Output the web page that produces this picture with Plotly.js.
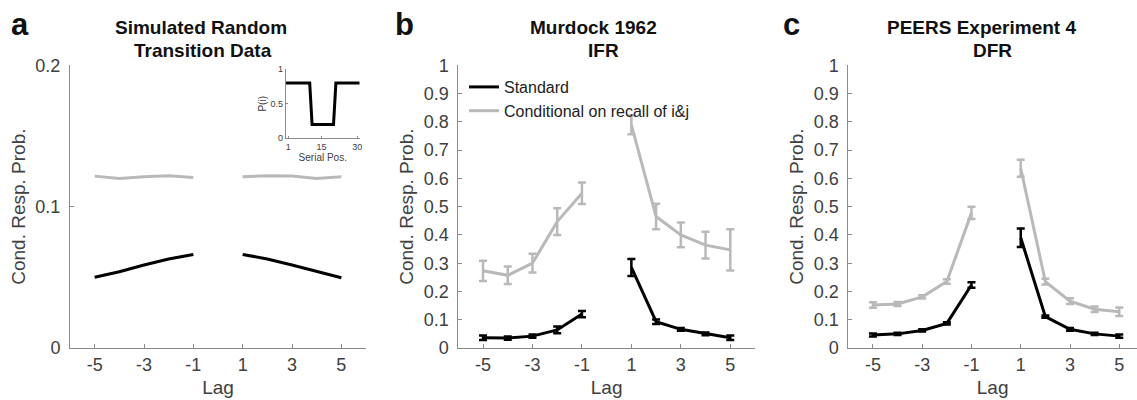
<!DOCTYPE html>
<html>
<head>
<meta charset="utf-8">
<script src="https://cdn.plot.ly/plotly-3.0.1.min.js"></script>
<style>html,body{margin:0;padding:0;background:#fff;}#chart{width:1137px;height:400px;}</style>
</head>
<body>
<div id="chart"></div>
<script>
// ---- data ----
const lags = [-5, -4, -3, -2, -1, 1, 2, 3, 4, 5];
const lagTicks = [-5, -3, -1, 1, 3, 5];

// Panel a: simulated random transition data
const simStandard    = [0.050, 0.054, 0.0587, 0.063, 0.0662, 0.0662, 0.063, 0.0587, 0.054, 0.0497];
const simConditional = [0.1216, 0.1199, 0.1211, 0.1218, 0.1206, 0.1211, 0.1219, 0.1216, 0.1199, 0.1211];

// Inset: probability of recall by serial position
const insetSerialPos = [0,1,2,3,4,5,6,7,8,9,10,11,12,13,14,15,16,17,18,19,20,21,22,23,24,25,26,27,28,29,30,31];
const insetPRecall   = [0.8,0.8,0.8,0.8,0.8,0.8,0.8,0.8,0.8,0.8,0.8,0.2,0.2,0.2,0.2,0.2,0.2,0.2,0.2,0.2,0.2,0.8,0.8,0.8,0.8,0.8,0.8,0.8,0.8,0.8,0.8,0.8];

// Panel b: Murdock 1962 IFR
const murdStandard       = [0.036, 0.035, 0.042, 0.064, 0.120, 0.285, 0.093, 0.066, 0.050, 0.036];
const murdStandardErr    = [0.008, 0.006, 0.006, 0.012, 0.011, 0.030, 0.008, 0.005, 0.005, 0.008];
const murdConditional    = [0.273, 0.257, 0.300, 0.447, 0.547, 0.789, 0.465, 0.400, 0.364, 0.347];
const murdConditionalErr = [0.036, 0.031, 0.033, 0.047, 0.038, 0.033, 0.045, 0.044, 0.047, 0.073];

// Panel c: PEERS Experiment 4 DFR
const peersStandard       = [0.046, 0.050, 0.062, 0.087, 0.223, 0.390, 0.111, 0.066, 0.050, 0.042];
const peersStandardErr    = [0.005, 0.004, 0.004, 0.004, 0.010, 0.033, 0.004, 0.005, 0.004, 0.006];
const peersConditional    = [0.152, 0.156, 0.181, 0.235, 0.478, 0.636, 0.235, 0.166, 0.137, 0.128];
const peersConditionalErr = [0.010, 0.007, 0.006, 0.008, 0.022, 0.030, 0.010, 0.010, 0.010, 0.015];

const seriesNames = ['Standard', 'Conditional on recall of i&j'];

// ---- helpers ----
const BLACK = '#000000';
const GRAY = '#b9b9b9';
const FONT = 'Liberation Sans, Arial, Helvetica, sans-serif';

function gap(arr) { // break the line between lag -1 and lag +1
  return arr.slice(0, 5).concat([null]).concat(arr.slice(5));
}
function line(y, color, xa, ya, name, showlegend, err) {
  const t = {
    type: 'scatter', mode: 'lines', x: gap(lags), y: gap(y), xaxis: xa, yaxis: ya,
    name: name, showlegend: showlegend, connectgaps: false,
    line: {color: color, width: 3}, hoverinfo: 'x+y'
  };
  if (err) {
    t.error_y = {type: 'data', array: gap(err), visible: true, color: color, thickness: 2.5, width: 4};
  }
  return t;
}

const traces = [
  line(simConditional, GRAY, 'x', 'y', seriesNames[1], false),
  line(simStandard, BLACK, 'x', 'y', seriesNames[0], false),
  {type: 'scatter', mode: 'lines', x: insetSerialPos, y: insetPRecall, xaxis: 'x4', yaxis: 'y4',
   showlegend: false, line: {color: BLACK, width: 3}, name: 'P(i)'},
  line(murdStandard, BLACK, 'x2', 'y2', seriesNames[0], true, murdStandardErr),
  line(murdConditional, GRAY, 'x2', 'y2', seriesNames[1], true, murdConditionalErr),
  line(peersConditional, GRAY, 'x3', 'y3', seriesNames[1], false, peersConditionalErr),
  line(peersStandard, BLACK, 'x3', 'y3', seriesNames[0], false, peersStandardErr)
];

const W = 1137, H = 400;
const yDom = [1 - 348 / H, 1 - 65.3 / H];
const axisCommon = {
  showline: true, linecolor: '#8c8c8c', linewidth: 1, mirror: false,
  ticks: 'inside', ticklen: 4, tickcolor: '#8c8c8c', tickwidth: 1,
  showgrid: false, zeroline: false,
  tickfont: {family: FONT, size: 18, color: '#404040'}
};
function xAxis(dom, range) {
  return Object.assign({}, axisCommon, {
    domain: dom, range: range, tickmode: 'array', tickvals: lagTicks, ticktext: lagTicks.map(String),
    title: {text: 'Lag', font: {family: FONT, size: 19, color: '#404040'}, standoff: 7}
  });
}
function yAxis(anchor, range, ticks, standoff) {
  return Object.assign({}, axisCommon, {
    domain: yDom, anchor: anchor, range: range, tickmode: 'array', tickvals: ticks, ticktext: ticks.map(String),
    ticklabelstandoff: 5,
    title: {text: 'Cond. Resp. Prob.', font: {family: FONT, size: 19, color: '#404040'}, standoff: standoff}
  });
}
const probTicks = [0, 0.1, 0.2, 0.3, 0.4, 0.5, 0.6, 0.7, 0.8, 0.9, 1];

const layout = {
  width: W, height: H,
  margin: {l: 0, r: 0, t: 0, b: 0},
  paper_bgcolor: '#fff', plot_bgcolor: 'rgba(0,0,0,0)',
  font: {family: FONT, color: '#404040'},
  showlegend: true,
  legend: {
    x: 464 / W, y: 1 - 70 / H, xanchor: 'left', yanchor: 'top',
    bgcolor: 'rgba(0,0,0,0)', borderwidth: 0,
    font: {family: FONT, size: 16, color: '#222'},
    tracegroupgap: 0, itemwidth: 30
  },
  xaxis: Object.assign(xAxis([70 / W, 366 / W], [-6, 6]), {anchor: 'y'}),
  yaxis: yAxis('x', [0, 0.2], [0, 0.1, 0.2], 4),
  xaxis2: Object.assign(xAxis([458.3 / W, 755 / W], [-6, 6]), {anchor: 'y2'}),
  yaxis2: yAxis('x2', [0, 1], probTicks, 5),
  xaxis3: Object.assign(xAxis([848.3 / W, 1], [-6, 5.72]), {anchor: 'y3'}),
  yaxis3: yAxis('x3', [0, 1], probTicks, 5),
  xaxis4: Object.assign({}, axisCommon, {
    domain: [285.9 / W, 359.7 / W], anchor: 'y4', range: [0, 31], ticklen: 2,
    tickmode: 'array', tickvals: [1, 15, 30], ticktext: ['1', '15', '30'],
    tickfont: {family: FONT, size: 9, color: '#404040'},
    title: {text: 'Serial Pos.', font: {family: FONT, size: 10, color: '#404040'}, standoff: 2}
  }),
  yaxis4: Object.assign({}, axisCommon, {
    domain: [1 - 138.3 / H, 1 - 69.3 / H], anchor: 'x4', range: [0, 1], ticklen: 2,
    tickmode: 'array', tickvals: [0, 0.5, 1], ticktext: ['0', '0.5', '1'],
    tickfont: {family: FONT, size: 9, color: '#404040'},
    title: {text: 'P(i)', font: {family: FONT, size: 10, color: '#404040'}, standoff: 2}
  }),
  annotations: [
    {text: '<b>a</b>', x: 20 / W, y: 1 - 24 / H},
    {text: '<b>b</b>', x: 404.5 / W, y: 1 - 24 / H},
    {text: '<b>c</b>', x: 791.5 / W, y: 1 - 24 / H},
  ].map(a => Object.assign(a, {xref: 'paper', yref: 'paper', showarrow: false, xanchor: 'center', yanchor: 'middle',
      font: {family: FONT, size: 31, color: '#111'}}))
    .concat([
      {text: '<b>Simulated Random</b>', x: 201 / W, y: 1 - 27 / H},
      {text: '<b>Transition Data</b>', x: 203 / W, y: 1 - 50 / H},
      {text: '<b>Murdock 1962</b>', x: 593.3 / W, y: 1 - 27 / H},
      {text: '<b>IFR</b>', x: 603.7 / W, y: 1 - 50 / H},
      {text: '<b>PEERS Experiment 4</b>', x: 981 / W, y: 1 - 27 / H},
      {text: '<b>DFR</b>', x: 992.5 / W, y: 1 - 50 / H}
    ].map(a => Object.assign(a, {xref: 'paper', yref: 'paper', showarrow: false, xanchor: 'center', yanchor: 'middle',
      font: {family: FONT, size: 19, color: '#111'}})))
};

Plotly.newPlot('chart', traces, layout, {displayModeBar: false, responsive: false});
</script>
</body>
</html>
